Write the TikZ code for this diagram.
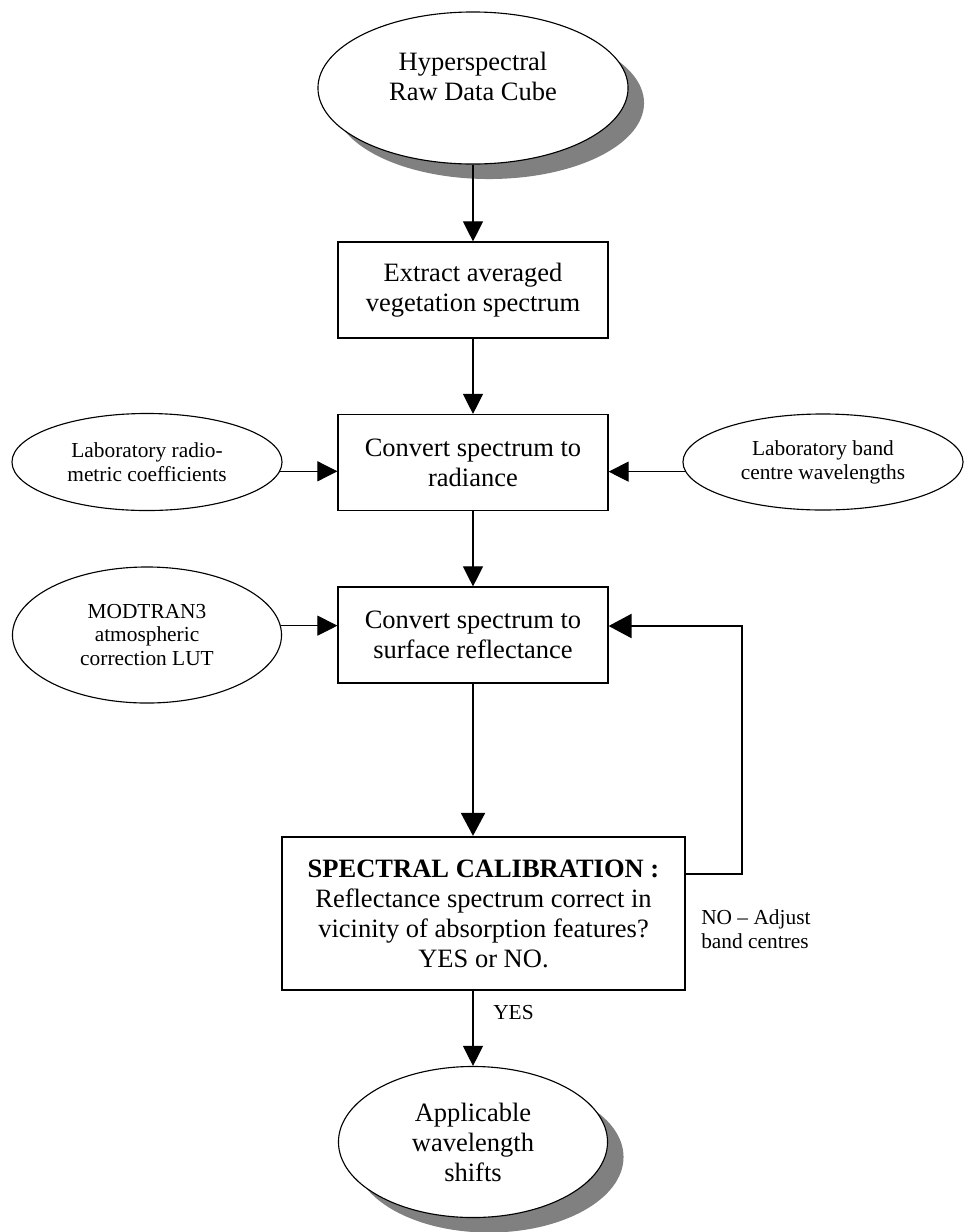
\documentclass[tikz,border=0pt]{standalone}
\usepackage{fontspec}
\setmainfont{Liberation Serif}
\usepackage{tikz}
\usetikzlibrary{shapes,arrows.meta,shadows}

\begin{document}
\begin{tikzpicture}[x=0.025cm,y=-0.025cm]
\tikzstyle{mainfont}=[font=\fontsize{18.85}{21.3}\selectfont]
\tikzstyle{sidefont}=[font=\fontsize{15.2}{17}\selectfont]
\tikzstyle{process}=[rectangle, draw=black, line width=0.8pt, minimum width=6.75cm, minimum height=2.4cm, align=center, mainfont]
\tikzstyle{decision}=[rectangle, draw=black, line width=1.6pt, minimum width=10.075cm, minimum height=3.825cm, inner sep=0pt, align=center, mainfont]
\tikzstyle{terminal}=[ellipse, draw=black, line width=0.8pt, fill=white, inner sep=0pt, align=center, mainfont, drop shadow={shadow xshift=0.4cm, shadow yshift=-0.375cm, fill=black!50, opacity=1}]
\tikzstyle{input}=[ellipse, draw=black, line width=0.8pt, inner sep=0pt, align=center, sidefont]
\tikzstyle{note}=[anchor=west, inner sep=0pt, align=left, sidefont]
\tikzstyle{connect}=[-{Triangle[length=0.5cm,width=0.5cm]}, line width=0.8pt]
\tikzstyle{connectthick}=[-{Triangle[length=0.575cm,width=0.6cm]}, line width=1.6pt]
\useasboundingbox (0,0) rectangle (965,1232);
	\node[terminal, minimum width=7.75cm, minimum height=3.8cm] (cube) at (473,88) [label={[mainfont, align=center, yshift=0.3cm]center:{Hyperspectral\\Raw Data Cube}}]{};
	\node[process] (extract) at (473,290) {Extract averaged\\vegetation spectrum};
	\node[process] (convrad) at (473,462.5) {Convert spectrum to\\radiance};
	\node[process] (convrefl) at (473,635) {Convert spectrum to\\surface reflectance};
	\node[decision] (calib) at (483.5,913.5) {\textbf{SPECTRAL CALIBRATION :}\\Reflectance spectrum correct in\\vicinity of absorption features?\\YES or NO.};
	\node[terminal, minimum width=6.725cm, minimum height=3.775cm] (shifts) at (473,1142) {Applicable\\wavelength\\shifts};
	\node[input, minimum width=6.75cm, minimum height=2.425cm] (labrad) at (147,462) {Laboratory radio-\\metric coefficients};
	\node[input, minimum width=7cm, minimum height=2.4cm] (labband) at (823,462) {Laboratory band\\centre wavelengths};
	\node[input, minimum width=6.725cm, minimum height=3.4cm] (modtran) at (147,635) {MODTRAN3\\atmospheric\\correction LUT};
	\node[note] (yes) at (493,1013) {YES};
	\node[note] (noadjust) at (701,929) {NO – Adjust\\band centres};
	\coordinate (nocorner) at (742,874);
	\coordinate (noreturn) at (742,626);

	\path
		(cube) edge [connect] (extract)
		(extract) edge [connect] (convrad)
		(convrad) edge [connect] (convrefl)
		(labrad.-4) edge [connect] (labrad.-4 -| convrad.west)
		(labband.184) edge [connect] (labband.184 -| convrad.east)
		(modtran.4) edge [connect] (modtran.4 -| convrefl.west)
		(convrefl.south) edge [connectthick] (convrefl.south |- calib.north)
		(shifts.north |- calib.south) edge [connect] (shifts.north);
	\draw[connectthick] (calib.east |- nocorner) -- (nocorner) -- (noreturn) -- (noreturn -| convrefl.east);

\end{tikzpicture}
\end{document}
